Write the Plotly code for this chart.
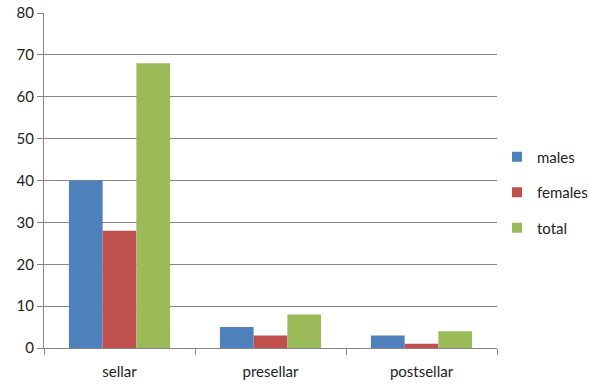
import plotly.graph_objects as go

categories = ["sellar", "presellar", "postsellar"]
males = [40, 5, 3]
females = [28, 3, 1]
total = [68, 8, 4]
y_ticks = [0, 10, 20, 30, 40, 50, 60, 70, 80]

series = [("males", males, "#4F81BD"), ("females", females, "#C0504D"), ("total", total, "#9BBB59")]

fig = go.Figure()
for name, vals, color in series:
    fig.add_trace(go.Bar(x=categories, y=vals, name=name, marker_color=color,
                         marker_line_width=0, legendgroup=name, showlegend=False))
for name, vals, color in series:
    fig.add_trace(go.Scatter(x=[categories[0]], y=[None], mode="markers", name=name,
                             marker=dict(symbol="square", size=10, color=color),
                             legendgroup=name, showlegend=True))

fig.update_layout(
    width=589, height=385,
    margin=dict(l=44, r=92, t=13, b=37, autoexpand=False),
    paper_bgcolor="white", plot_bgcolor="white",
    barmode="group", bargap=0.33, bargroupgap=0,
    font=dict(family="Lato, Carlito, sans-serif", size=15, color="#222222"),
    legend=dict(x=1.0, y=0.464, yanchor="middle", xanchor="left",
                tracegroupgap=13, font=dict(size=15), itemwidth=30),
    showlegend=True,
)
fig.update_xaxes(showline=True, linecolor="#868686", linewidth=1,
                 ticks="outside", ticklen=6, tickcolor="#868686",
                 tickson="boundaries", showgrid=False, ticklabelstandoff=10)
fig.update_yaxes(range=[0, 80], tickvals=y_ticks, showgrid=True, gridcolor="#868686",
                 gridwidth=1, showline=True, linecolor="#868686", ticks="outside",
                 ticklen=6, tickcolor="#868686", zeroline=False)

fig.write_html("out.html")
